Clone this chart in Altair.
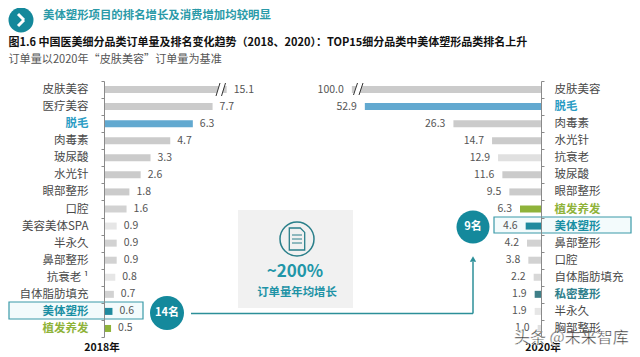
import altair as alt
import pandas as pd

left_cats = ["皮肤美容","医疗美容","脱毛","肉毒素","玻尿酸","水光针","眼部整形","口腔","美容美体SPA","半永久","鼻部整形","抗衰老 ¹","自体脂肪填充","美体塑形","植发养发"]
left_vals = [15.1,7.7,6.3,4.7,3.3,2.6,1.8,1.6,0.9,0.9,0.9,0.8,0.7,0.6,0.5]
left_drawn = [8.7,7.7,6.3,4.7,3.3,2.6,1.8,1.6,0.9,0.9,0.9,0.8,0.7,0.6,0.5]
left_cols = ["#cbcbcb","#cbcbcb","#62a9d0","#cbcbcb","#cbcbcb","#cbcbcb","#cbcbcb","#d2d2d2","#e6e6e6","#d2d2d2","#d2d2d2","#e6e6e6","#d2d2d2","#1f8a9e","#8fb33a"]

right_cats = ["皮肤美容","脱毛","肉毒素","水光针","抗衰老","玻尿酸","眼部整形","植发养发","美体塑形","鼻部整形","口腔","自体脂肪填充","私密整形","半永久","胸部整形"]
right_vals = [100.0,52.9,26.3,14.7,12.9,11.6,9.5,6.3,4.6,4.2,3.8,2.2,1.9,1.9,1.0]
right_drawn = [56.8,52.9,26.3,14.7,12.9,11.6,9.5,6.3,4.6,4.2,3.8,2.2,1.9,1.9,1.0]
right_cols = ["#cbcbcb","#62a9d0","#cbcbcb","#cbcbcb","#e0e0e0","#cbcbcb","#cbcbcb","#8fb33a","#1f8a9e","#d2d2d2","#d2d2d2","#d8d8d8","#3f7f88","#e6e6e6","#e0e0e0"]

FONT = "Noto Sans CJK SC"
TEAL = "#1e93a6"
W, H = 624, 349
ROW_RANGE = [73, 329]


def X(p):
    return alt.value(p - 8)


def Y(p):
    return alt.value(p - 8)


ONE = alt.Data(values=[{"a": 1}])


def axis(orient, offset, pad, colors):
    conds = [{"test": f"datum.value=='{k}'", "value": v} for k, v in colors.items()]
    bolds = " || ".join(f"datum.value=='{k}'" for k in colors)
    return alt.Axis(
        orient=orient, offset=offset, title=None, labelFont=FONT, labelFontSize=11.5,
        labelPadding=pad, tickBand="extent", tickSize=3, tickColor="#8a8a8a",
        domainColor="#8a8a8a", labelLimit=200, grid=False, zindex=1,
        labelColor={"condition": conds, "value": "#4a4a4a"},
        labelFontWeight={"condition": {"test": bolds, "value": "bold"}, "value": "normal"},
    )


def panel(cats, vals, drawn, cols, xs, ax, dx, align):
    df = pd.DataFrame({"cat": cats, "val": vals, "drawn": drawn, "col": cols})
    df["lab"] = df["val"].map(lambda v: f"{v:.1f}")
    ysc = alt.Scale(domain=cats, range=ROW_RANGE, paddingInner=0, paddingOuter=0)
    bar = alt.Chart(df).mark_bar(size=7).encode(
        x=alt.X("drawn:Q", scale=xs, axis=None),
        y=alt.Y("cat:N", sort=cats, scale=ysc, axis=ax),
        color=alt.Color("col:N", scale=None),
    )
    txt = alt.Chart(df).mark_text(font=FONT, fontSize=10.5, color="#555555", align=align, dx=dx).encode(
        x=alt.X("drawn:Q", scale=xs, axis=None),
        y=alt.Y("cat:N", sort=cats, scale=ysc, axis=None),
        text="lab:N",
    )
    return [bar, txt]


def label(s, x, y, size, color="#333333", weight="normal", align="left"):
    return alt.Chart(ONE).mark_text(font=FONT, fontSize=size, color=color, fontWeight=weight, align=align, baseline="middle").encode(
        x=X(x), y=Y(y), text=alt.value(s))


def rule(x1, y1, x2, y2, color, w):
    return alt.Chart(ONE).mark_rule(color=color, strokeWidth=w).encode(x=X(x1), x2=X(x2), y=Y(y1), y2=Y(y2))


def box(x1, y1, x2, y2, fill, stroke=None, sw=1):
    kw = {"fill": fill}
    if stroke:
        kw.update(stroke=stroke, strokeWidth=sw)
    return alt.Chart(ONE).mark_rect(**kw).encode(x=X(x1), x2=X(x2), y=Y(y1), y2=Y(y2))


def dot(x, y, r, fill, stroke=None, sw=1.5):
    kw = {"filled": True, "color": fill, "opacity": 1, "shape": "circle"}
    if stroke:
        kw = {"filled": False, "stroke": stroke, "strokeWidth": sw, "opacity": 1, "shape": "circle"}
    return alt.Chart(ONE).mark_point(**kw).encode(x=X(x), y=Y(y), size=alt.value((2 * r) ** 2))


layers = []
# bottom: highlight boxes and the panel
layers += [box(9, 302, 143, 319, "#f3fbfc", "#3a9aa8", 1.2), box(494, 217, 631, 233, "#f3fbfc", "#3a9aa8", 1.2)]
layers.append(box(238, 210, 353, 308, "#f1f1f1"))

lx = alt.Scale(domain=[0, 15], range=[96, 96 + 14.1 * 15])
rx = alt.Scale(domain=[0, 100], range=[533, 533 - 333])
layers += panel(left_cats, left_vals, left_drawn, left_cols, lx,
                axis("left", -96, 13, {"脱毛": "#2a9cc4", "美体塑形": "#1a8fa3", "植发养发": "#8fb33a"}), 7, "left")
layers += panel(right_cats, right_vals, right_drawn, right_cols, rx,
                axis("right", -(W - 533), 10, {"脱毛": "#2a9cc4", "美体塑形": "#1a8fa3", "植发养发": "#8fb33a", "私密整形": "#2f7f8c"}), -8, "right")

# axis breaks
layers += [rule(218.5, 96, 222.5, 83, "#ffffff", 5), rule(216, 96, 220, 83, "#333333", 1), rule(221.5, 96, 225.5, 83, "#333333", 1)]
layers += [rule(356, 95, 360, 83, "#ffffff", 5), rule(353.5, 95, 357.5, 83, "#333333", 1), rule(359, 95, 363, 83, "#333333", 1)]

# header
layers += [dot(21, 20, 12.5, "#14889b"), rule(18, 14, 24, 20, "#ffffff", 3), rule(24, 20, 18, 26, "#ffffff", 3)]
layers.append(label("美体塑形项目的排名增长及消费增加均较明显", 43, 15.5, 11.4, "#2a9aa8", "bold"))
layers.append(label("图1.6 中国医美细分品类订单量及排名变化趋势（2018、2020）：TOP15细分品类中美体塑形品类排名上升", 8.5, 43, 11, "#111111", "bold"))
layers.append(label("订单量以2020年“皮肤美容”订单量为基准", 8.5, 60, 11.1, "#555555"))

# connector
layers += [rule(191, 313.5, 473, 313.5, "#2c8f99", 1.5), rule(473, 313.5, 473, 262, "#2c8f99", 1.5)]
layers.append(alt.Chart(ONE).mark_point(filled=True, color="#2c8f99", opacity=1, shape="triangle-up").encode(x=X(473), y=Y(259), size=alt.value(40)))
layers += [dot(167, 313, 17, "#14899c"), label("14名", 167, 313, 11, "#ffffff", "bold", "center")]
layers += [dot(473, 227, 16.5, "#14899c"), label("9名", 473, 227, 11, "#ffffff", "bold", "center")]

# panel content
layers.append(dot(297, 239, 17, "#ffffff", "#2a7f8a", 1.5))
layers.append(alt.Chart(ONE).mark_point(filled=False, stroke="#2a7f8a", strokeWidth=1.3, opacity=1,
                                        shape="M-0.7,-1 L0.3,-1 L0.7,-0.6 L0.7,1 L-0.7,1 Z").encode(x=X(297), y=Y(239), size=alt.value(22 ** 2)))
for yy in (235, 239, 243):
    layers.append(rule(292, yy, 302, yy, "#2a7f8a", 1))
layers.append(label("~200%", 295, 272, 17, "#2196a8", "bold", "center"))
layers.append(label("订单量年均增长", 297, 293, 11.4, "#1e93a6", "bold", "center"))

# year labels and watermark
layers.append(label("2018年", 102, 348, 10.5, "#111111", "bold", "center"))
layers.append(label("2020年", 543, 348, 10.5, "#111111", "bold", "center"))
layers.append(alt.Chart(ONE).mark_text(font=FONT, fontSize=16, color="#333333", align="left", baseline="middle",
                                       stroke="#ffffff", strokeWidth=0.4).encode(x=X(514), y=Y(338), text=alt.value("头条 @未来智库")))

chart = alt.layer(*layers).resolve_scale(x="independent", y="independent").properties(
    width=W, height=H, padding=0, autosize=alt.AutoSizeParams(type="none"), background="#ffffff"
).configure_view(stroke=None)

chart.save("out.html", embed_options={"renderer": "svg", "actions": False})
